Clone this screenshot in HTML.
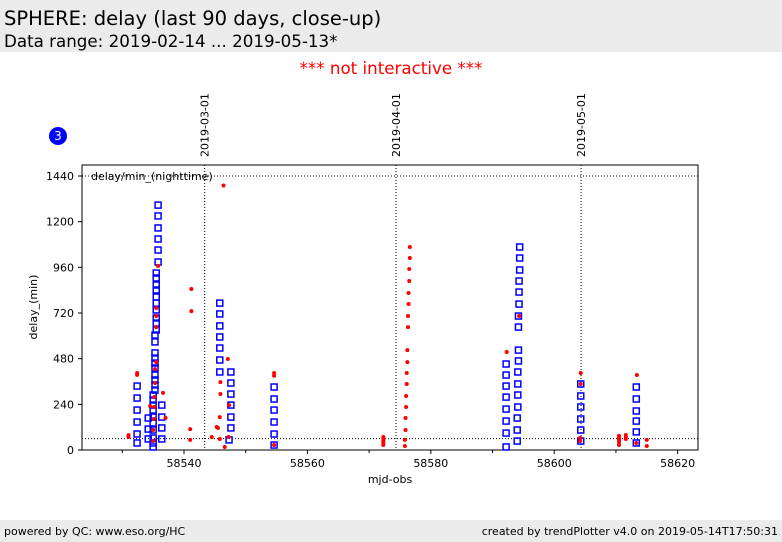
<!DOCTYPE html>
<html><head><meta charset="utf-8"><style>
body{margin:0;width:782px;height:542px;background:#fff;font-family:"DejaVu Sans","Liberation Sans",sans-serif;overflow:hidden;position:relative}
.hdr{position:absolute;left:0;top:0;width:782px;height:52px;background:#ebebeb}
.t1{position:absolute;left:4px;top:7px;font-size:19.5px}
.t2{position:absolute;left:4px;top:31px;font-size:16.7px}
.ni{position:absolute;left:0;width:782px;top:58px;text-align:center;color:#ff0000;font-size:16.7px}
.ftr{position:absolute;left:0;top:520px;width:782px;height:22px;background:#ebebeb;font-size:11px}
</style></head><body>
<div class="hdr">
<div class="t1">SPHERE: delay (last 90 days, close-up)</div>
<div class="t2">Data range: 2019-02-14 ... 2019-05-13*</div>
</div>
<div class="ni">*** not interactive ***</div>
<svg id="chart" width="782" height="542" style="position:absolute;left:0;top:0" font-family="DejaVu Sans, Liberation Sans, sans-serif"></svg>
<div class="ftr">
<span style="position:absolute;left:4px;top:5px">powered by QC: www.eso.org/HC</span>
<span style="position:absolute;right:4px;top:5px">created by trendPlotter v4.0 on 2019-05-14T17:50:31</span>
</div>
<script>
const xTicks=[58540,58560,58580,58600,58620];
const yTicks=[0,240,480,720,960,1200,1440];
const dateLines=[58543.35,58574.35,58604.35];
const dateLabels=["2019-03-01","2019-04-01","2019-05-01"];
const blueX=[58532.4,58532.4,58532.4,58532.4,58532.4,58532.4,
58534.2,58534.2,58534.2,
58535.8,58535.8,58535.8,58535.8,58535.8,58535.8,
58535.5,58535.5,58535.5,58535.5,58535.5,58535.5,58535.5,58535.5,58535.5,58535.5,
58535.3,58535.3,58535.3,58535.3,58535.3,58535.3,58535.3,58535.3,58535.3,58535.3,
58535.0,58535.0,58535.0,58535.0,58535.0,58535.0,58535.0,58535.0,58535.0,58535.0,
58536.4,58536.4,58536.4,58536.4,
58545.8,58545.8,58545.8,58545.8,58545.8,58545.8,58545.8,
58547.6,58547.6,58547.6,58547.6,58547.6,58547.6,58547.3,
58554.6,58554.6,58554.6,58554.6,58554.6,58554.6,
58592.2,58592.2,58592.2,58592.2,58592.2,58592.2,58592.2,58592.2,
58594.0,58594.0,58594.0,58594.1,58594.1,58594.1,58594.1,58594.2,58594.2,58594.2,58594.2,58594.3,58594.3,58594.3,58594.4,58594.4,58594.4,
58604.3,58604.3,58604.3,58604.3,58604.3,58604.3,
58613.3,58613.3,58613.3,58613.3,58613.3,58613.3];
const blueY=[336,273,210,147,84,37,
168,110,58,
1287,1230,1167,1109,1051,988,
930,904,867,841,804,772,736,694,667,631,
604,568,510,483,457,431,394,368,342,315,
289,263,236,210,173,142,105,63,37,16,
236,173,116,58,
772,715,652,594,536,473,410,
410,352,294,236,173,116,53,
331,268,210,147,84,26,
16,89,152,215,278,336,394,452,
47,105,168,226,289,347,410,468,525,646,704,767,830,888,946,1009,1067,
347,284,226,163,105,47,
331,268,205,152,95,37];
const redX=[58531.0,58531.0,58532.4,58532.4,58534.5,58535.8,58535.5,58535.5,58535.5,58535.5,58535.3,58535.3,58535.2,58535.2,58535.1,58535.0,58535.0,58536.6,58537.0,
58541.2,58541.2,58541.0,58541.0,58544.5,58545.3,58545.5,58545.8,58545.8,58545.9,58545.9,58547.1,58547.3,58547.2,58546.6,58546.4,
58554.6,58554.6,58554.6,
58572.3,58572.3,58572.3,58572.3,58572.3,
58576.6,58576.6,58576.5,58576.5,58576.4,58576.4,58576.3,58576.3,58576.2,58576.2,58576.1,58576.1,58576.0,58576.0,58575.9,58575.9,58575.8,58575.8,
58592.3,58594.3,
58604.3,58604.3,58604.2,58604.2,
58610.5,58610.5,58610.5,58610.5,58610.5,58611.6,58611.6,58611.6,
58613.4,58613.3,58615.0,58615.0];
const redY=[68,78,405,395,231,967,746,704,646,462,425,352,278,226,163,105,47,300,168,
846,730,110,53,68,121,116,58,173,294,357,478,236,68,16,1390,
405,390,26,
68,58,47,37,26,
1067,1009,951,888,825,767,704,646,525,462,405,347,284,226,168,105,53,21,
515,704,
405,347,63,47,
74,63,53,42,26,79,68,58,
394,37,53,21];
const NS="http://www.w3.org/2000/svg";
const svg=document.getElementById('chart');
const L=82,R=698,T=165,B=450;
const xMin=58523.47,xMax=58623.3,yMin=0,yMax=1440;
const xs=v=>L+(v-xMin)/(xMax-xMin)*(R-L);
const ys=v=>B-(v-yMin)/(yMax-yMin)*(B-176);
function mk(tag,a){const e=document.createElementNS(NS,tag);for(const k in a)e.setAttribute(k,a[k]);svg.appendChild(e);return e;}
let e;
e=mk('rect',{x:L,y:T,width:R-L,height:B-T,fill:'none',stroke:'#000','stroke-width':1});


e=mk('line',{x1:L,x2:R,y1:ys(1440),y2:ys(1440),stroke:'#000','stroke-dasharray':'1,2'});


e=mk('line',{x1:L,x2:R,y1:ys(60),y2:ys(60),stroke:'#000','stroke-dasharray':'1,2'});


dateLines.forEach((d,i)=>{
 const x=xs(d);
 let l=mk('line',{x1:x,x2:x,y1:T,y2:B,stroke:'#000','stroke-dasharray':'1,2'});
 
 
 let t=mk('text',{x:x+4,y:T-8,'font-size':11,transform:`rotate(-90 ${x+4} ${T-8})`});
 t.textContent=dateLabels[i];
 
 
});
xTicks.forEach(v=>{
 const x=xs(v);
 let l=mk('line',{x1:x,x2:x,y1:B,y2:B+4,stroke:'#000'});
 
 
 let t=mk('text',{x:x,y:B+17,'font-size':11,'text-anchor':'middle'});
 t.textContent=v;
 
 
});
for(let v=58530;v<=58620;v+=10){if(v%20){const x=xs(v);let l=mk('line',{x1:x,x2:x,y1:B,y2:B+3,stroke:'#000'});
 
 }}
yTicks.forEach(v=>{
 const y=ys(v);
 let l=mk('line',{x1:L-4,x2:L,y1:y,y2:y,stroke:'#000'});
 
 
 let t=mk('text',{x:L-8,y:y+4,'font-size':11,'text-anchor':'end'});
 t.textContent=v;
 
 
});
e=mk('text',{x:390,y:483,'font-size':11,'text-anchor':'middle'});e.textContent='mjd-obs';


e=mk('text',{x:37,y:307,'font-size':11,'text-anchor':'middle',transform:'rotate(-90 37 307)'});e.textContent='delay_(min)';


e=mk('text',{x:91,y:180,'font-size':11});e.textContent='delay/min_(nighttime)';


e=mk('circle',{cx:58,cy:136,r:9,fill:'#0000ff'});


e=mk('text',{x:58,y:140,'font-size':12,fill:'#fff','text-anchor':'middle'});e.textContent='3';


blueX.forEach((v,i)=>{
 let r=mk('rect',{x:xs(v)-3,y:ys(blueY[i])-3,width:6,height:6,fill:'none',stroke:'#0000ff','stroke-width':1.5});
 
 
});
redX.forEach((v,i)=>{
 let c=mk('circle',{cx:xs(v),cy:ys(redY[i]),r:2,fill:'#ff0000'});
 
 
});
</script>
</body></html>
